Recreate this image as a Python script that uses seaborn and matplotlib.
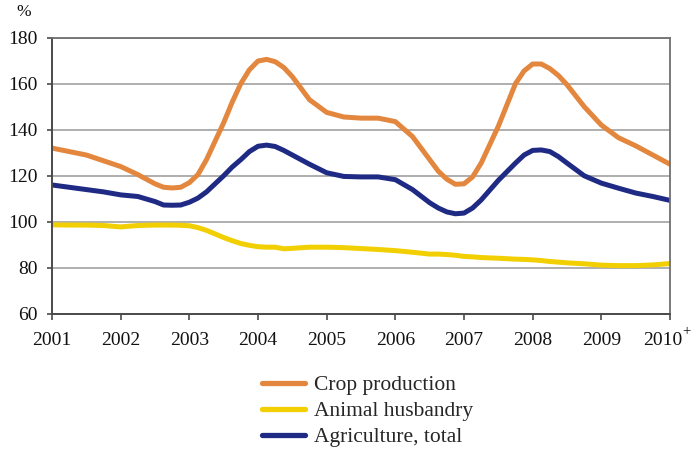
import matplotlib
matplotlib.use("Agg")
import matplotlib.pyplot as plt
import matplotlib.transforms as mtransforms
import numpy as np
import pandas as pd
import seaborn as sns

# Time points (fractional years): quarterly, denser around turning points
years = [
    2001.0, 2001.25, 2001.5, 2001.75, 2002.0, 2002.25, 2002.5, 2002.625,
    2002.75, 2002.875, 2003.0, 2003.125, 2003.25, 2003.5, 2003.625, 2003.75,
    2003.875, 2004.0, 2004.125, 2004.25, 2004.375, 2004.5, 2004.75, 2005.0,
    2005.25, 2005.5, 2005.75, 2006.0, 2006.25, 2006.5, 2006.625, 2006.75,
    2006.875, 2007.0, 2007.125, 2007.25, 2007.5, 2007.75, 2007.875, 2008.0,
    2008.125, 2008.25, 2008.375, 2008.5, 2008.75, 2009.0, 2009.25, 2009.5,
    2009.75, 2010.0,
]

crop_production = [
    132.0, 130.5, 129.0, 126.5, 124.0, 120.5, 116.5, 115.0,
    114.7, 115.0, 117.0, 120.5, 127.0, 143.0, 152.0, 160.0,
    166.0, 169.8, 170.5, 169.5, 167.0, 163.0, 153.0, 147.5,
    145.5, 145.0, 145.0, 143.5, 137.0, 127.0, 122.0, 118.5,
    116.3, 116.5, 119.5, 125.5, 141.5, 160.0, 165.5, 168.5,
    168.5, 166.5, 163.5, 159.5, 150.0, 142.0, 136.5, 133.0,
    129.0, 125.0,
]
animal_husbandry = [
    98.7, 98.6, 98.6, 98.4, 97.8, 98.4, 98.6, 98.6,
    98.6, 98.5, 98.3, 97.5, 96.3, 93.2, 91.8, 90.6,
    89.8, 89.2, 89.0, 89.0, 88.3, 88.5, 89.0, 89.0,
    88.8, 88.4, 88.0, 87.5, 86.8, 86.0, 86.0, 85.8,
    85.5, 85.0, 84.8, 84.5, 84.2, 83.8, 83.7, 83.5,
    83.2, 82.8, 82.5, 82.2, 81.8, 81.2, 81.0, 81.0,
    81.3, 81.9,
]
agriculture_total = [
    116.0, 115.0, 114.0, 113.0, 111.7, 111.0, 108.8, 107.3,
    107.2, 107.3, 108.5, 110.3, 113.0, 120.0, 123.8, 127.0,
    130.5, 132.8, 133.3, 132.7, 131.0, 129.0, 125.0, 121.3,
    119.7, 119.5, 119.5, 118.3, 114.0, 108.3, 106.0, 104.3,
    103.5, 103.8, 106.0, 109.5, 118.0, 125.5, 129.0, 131.0,
    131.2, 130.5, 128.3, 125.5, 120.0, 116.8, 114.6, 112.5,
    111.0, 109.3,
]

series_names = ["Crop production", "Animal husbandry", "Agriculture, total"]
series_colors = ["#E3873F", "#F2CF00", "#1F2A84"]
tick_years = list(range(2001, 2011))
tick_labels = [str(y) for y in tick_years]
last_tick_mark = "+"
y_ticks = [60, 80, 100, 120, 140, 160, 180]

df = pd.DataFrame({
    "year": years * 3,
    "value": crop_production + animal_husbandry + agriculture_total,
    "series": sum([[n] * len(years) for n in series_names], []),
})

sns.set_theme(style="white")
plt.rcParams["font.family"] = ["Liberation Serif", "DejaVu Serif"]

fig = plt.figure(figsize=(6.99, 4.49), dpi=100)
ax = fig.add_axes([52 / 699, 1 - 314 / 449, (670 - 52) / 699, (314 - 37.5) / 449])

sns.lineplot(
    data=df, x="year", y="value", hue="series", hue_order=series_names,
    palette=dict(zip(series_names, series_colors)), linewidth=3.6,
    ax=ax, legend=False,
)
for line in ax.get_lines():
    line.set_solid_joinstyle("round")

ax.set_xlim(2001, 2010)
ax.set_ylim(60, 180)
ax.set_xticks(tick_years)
ax.set_xticklabels(tick_labels)
ax.set_yticks(y_ticks)
ax.set_xlabel("")
ax.set_ylabel("")

ax.yaxis.grid(True, color="#A8A8A8", linewidth=1.3)
ax.xaxis.grid(False)
ax.set_axisbelow(True)

for side in ["top", "right"]:
    ax.spines[side].set_color("#707070")
    ax.spines[side].set_linewidth(1.3)
for side in ["left", "bottom"]:
    ax.spines[side].set_color("#4A4A4A")
    ax.spines[side].set_linewidth(1.4)

ax.tick_params(axis="x", direction="out", length=4, width=1.2, color="#4A4A4A",
               pad=9, labelsize=14, labelcolor="#111111", bottom=True)
ax.tick_params(axis="y", direction="out", length=3.5, width=1.2, color="#4A4A4A",
               pad=7, labelsize=14, labelcolor="#111111", left=True)

# Last year label carries a superscript mark; shift it left to make room
last_label = ax.get_xticklabels()[-1]
shift = mtransforms.ScaledTranslation(-7 / 100, 0, fig.dpi_scale_trans)
last_label.set_transform(last_label.get_transform() + shift)
fig.text(686 / 699, 1 - 332 / 449, last_tick_mark, ha="center", va="center",
         fontsize=10.5, color="#111111")

fig.text(23.5 / 699, 1 - 12 / 449, "%", ha="center", va="center",
         fontsize=12.5, color="#111111")

handles = [plt.Line2D([], [], color=c, linewidth=3.8, solid_capstyle="round")
           for c in series_colors]
fig.legend(handles, series_names, loc="upper left",
           bbox_to_anchor=(262 / 699, 1 - 375 / 449), frameon=False,
           borderpad=0, borderaxespad=0, fontsize=15.5, handlelength=2.0,
           handletextpad=0.42, labelspacing=0.28)

fig.savefig("out.png", dpi=100)
